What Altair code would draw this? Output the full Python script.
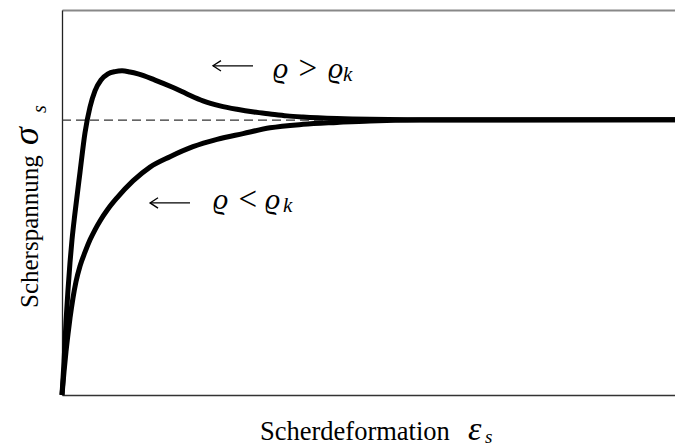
import altair as alt
import pandas as pd

# Shear stress vs. shear strain (normalised units): dense (upper) and loose (lower) packing
strain_hi = [0, 0.33, 0.65, 0.98, 1.31, 1.63, 2.12, 2.94, 3.75, 4.57, 5.38, 6.36,
             7.50, 8.65, 9.79, 11.09, 12.40, 15.17, 17.94, 20.39, 23.00, 25.77,
             28.55, 31.32, 33.93, 36.70, 39.31, 44.86, 50.24, 58.40, 100]
stress_hi = [0, 0.086, 0.190, 0.273, 0.345, 0.403, 0.473, 0.579, 0.681, 0.748, 0.790,
             0.818, 0.834, 0.840, 0.842, 0.839, 0.834, 0.818, 0.800, 0.782, 0.764,
             0.751, 0.742, 0.735, 0.730, 0.725, 0.722, 0.718, 0.716, 0.715, 0.715]

strain_lo = [0, 0.33, 0.65, 0.98, 1.31, 1.79, 2.28, 2.94, 3.75, 4.57, 5.38, 6.20,
             7.50, 8.97, 11.58, 14.36, 17.62, 21.37, 25.29, 29.53, 33.93, 39.31,
             44.86, 50.24, 58.40, 71.45, 100]
stress_lo = [0, 0.060, 0.112, 0.158, 0.200, 0.252, 0.294, 0.335, 0.371, 0.403, 0.429,
             0.452, 0.483, 0.512, 0.556, 0.592, 0.619, 0.645, 0.664, 0.679, 0.694,
             0.703, 0.708, 0.712, 0.714, 0.714, 0.715]

residual_strain = [0, 100]
residual_stress = [0.714, 0.714]

# annotation arrows (tip, tail, height) and labels, in data units
arrow_tip = [24.63, 14.36]
arrow_tail = [31.16, 20.88]
arrow_y = [0.855, 0.499]
rho_x = [34.42, 43.39, 24.63, 33.12]
rho_y = [0.823, 0.823, 0.483, 0.483]
rel_text = [">", "<"]
rel_x = [38.6, 28.8]
rel_y = [0.821, 0.481]
sub_x = [45.84, 36.05]
sub_y = [0.816, 0.475]

SERIF = "Liberation Serif"
W, H = 613, 385

curves = pd.concat([
    pd.DataFrame({"strain": strain_hi, "stress": stress_hi, "case": "hi"}),
    pd.DataFrame({"strain": strain_lo, "stress": stress_lo, "case": "lo"}),
])

xs = alt.Scale(domain=[0, 100], nice=False, zero=False)
ys = alt.Scale(domain=[0, 1], nice=False, zero=False)


def qx(field):
    return alt.X(field, type="quantitative", scale=xs, axis=None)


def qy(field):
    return alt.Y(field, type="quantitative", scale=ys, axis=None)


lines = alt.Chart(curves).mark_line(
    color="black", strokeWidth=5, interpolate="monotone"
).encode(
    x=alt.X("strain:Q", scale=xs,
            axis=alt.Axis(orient="bottom", title=None, labels=False, ticks=False,
                          grid=False, domainColor="#333", domainWidth=1.3)),
    y=alt.Y("stress:Q", scale=ys,
            axis=alt.Axis(orient="left", title=None, labels=False, ticks=False,
                          grid=False, domainColor="#222", domainWidth=1.3)),
    detail="case:N",
)

residual = alt.Chart(pd.DataFrame({"strain": residual_strain, "stress": residual_stress})).mark_line(
    color="#333", strokeWidth=1.3, strokeDash=[9, 5]
).encode(
    x=alt.X("strain:Q", scale=xs,
            axis=alt.Axis(orient="top", title=None, labels=False, ticks=False,
                          grid=False, domainColor="#888", domainWidth=2)),
    y=qy("stress"),
)

arrow_df = pd.DataFrame({"tip": arrow_tip, "tail": arrow_tail, "y": arrow_y})
shafts = alt.Chart(arrow_df).mark_rule(color="black", strokeWidth=1.3).encode(
    x=qx("tip"), x2="tail", y=qy("y")
)
heads = alt.Chart(arrow_df).mark_point(
    shape="M2,-1.3L0,0L2,1.3", size=64, filled=False, color="black",
    strokeWidth=1.3, opacity=1
).encode(x=qx("tip"), y=qy("y"))

rhos = alt.Chart(pd.DataFrame({"x": rho_x, "y": rho_y})).mark_text(
    text="ϱ", font=SERIF, fontSize=30, fontStyle="italic", align="left",
    baseline="alphabetic", color="black"
).encode(x=qx("x"), y=qy("y"))

relations = alt.Chart(pd.DataFrame({"x": rel_x, "y": rel_y, "t": rel_text})).mark_text(
    font=SERIF, fontSize=33, align="left", baseline="alphabetic", color="black"
).encode(x=qx("x"), y=qy("y"), text="t:N")

subs = alt.Chart(pd.DataFrame({"x": sub_x, "y": sub_y})).mark_text(
    text="k", font=SERIF, fontSize=21, fontStyle="italic", align="left", baseline="alphabetic",
    color="black"
).encode(x=qx("x"), y=qy("y"))

one = pd.DataFrame({"k": [0]})


def title_piece(text, x, y, size, italic=False, angle=0):
    return alt.Chart(one).mark_text(
        text=text, font=SERIF, fontSize=size, fontStyle="italic" if italic else "normal",
        align="left", baseline="alphabetic", angle=angle, color="black"
    ).encode(x=alt.value(x), y=alt.value(y))


x_title = [
    title_piece("Scherdeformation", 198, 430, 26.5),
    title_piece("ε", 406, 430, 34, italic=True),
    title_piece("s", 423, 433, 19, italic=True),
]
y_title = [
    title_piece("Scherspannung", -24, 298, 25, angle=270),
    title_piece("σ", -24, 135, 36, italic=True, angle=270),
    title_piece("s", -16, 103, 20, italic=True, angle=270),
]

chart = alt.layer(
    residual, lines, shafts, heads, rhos, relations, subs, *x_title, *y_title
).resolve_axis(
    x="independent", y="independent"
).properties(
    width=W, height=H,
    autosize=alt.AutoSizeParams(type="none"),
    padding={"left": 62, "top": 10, "right": 0, "bottom": 51},
).configure_view(stroke=None).configure(background="white")

chart.save("out.html", embed_options={"renderer": "svg", "actions": False})
